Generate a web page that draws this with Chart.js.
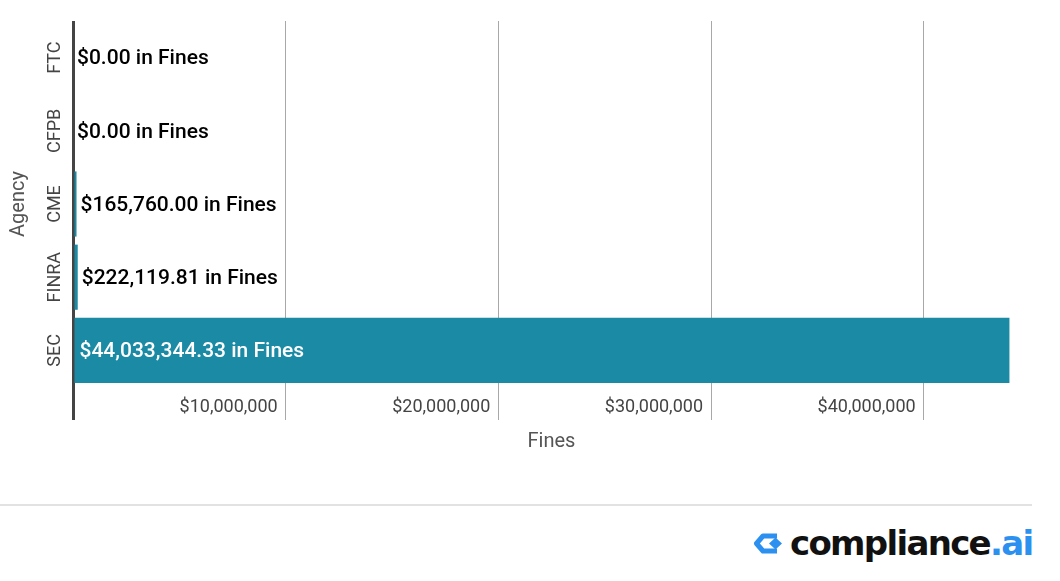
<!DOCTYPE html>
<html><head><meta charset="utf-8">
<script src="https://cdn.jsdelivr.net/npm/chart.js@4.4.1/dist/chart.umd.min.js"></script>
<style>
html,body{margin:0;padding:0;background:#fff;}
body{width:1060px;height:581px;position:relative;overflow:hidden;font-family:Roboto,sans-serif;}
#wrap{position:absolute;left:0;top:0;width:1060px;height:470px;}
#sep{position:absolute;left:0;top:504px;width:1032px;height:2px;background:#e2e2e2;}
#logo{position:absolute;left:753px;top:520px;height:46px;display:flex;align-items:center;white-space:nowrap;}
#logo .t{font-family:"DejaVu Sans",sans-serif;font-weight:bold;font-size:34px;letter-spacing:-1.7px;color:#111;margin-left:6px;}
#logo .ai{color:#2b90f0;}
</style></head><body>
<div id="wrap"><canvas id="c"></canvas></div>
<div id="sep"></div>
<div id="logo"><svg width="31" height="21" viewBox="0 0 31 21"><path d="M24 3 L10 3 L3.5 10.5 L10 18 L24 18" fill="none" stroke="#2b90f0" stroke-width="5" stroke-linejoin="round"/><polygon points="16,10.5 22.5,4.5 29,10.5 22.5,16.5" fill="#2b90f0"/></svg><span class="t">compliance<span class="ai">.ai</span></span></div>
<script>
const agencies = ['FTC', 'CFPB', 'CME', 'FINRA', 'SEC'];
const fines = [0, 0, 165760.00, 222119.81, 44033344.33];
const xTickValues = [0, 10000000, 20000000, 30000000, 40000000];
const xTickLabels = ['', '$10,000,000', '$20,000,000', '$30,000,000', '$40,000,000'];
const xMax = 45000000;
const labelSuffix = ' in Fines';

const money = new Intl.NumberFormat('en-US', {minimumFractionDigits: 2, maximumFractionDigits: 2});

const valueLabels = {
  id: 'valueLabels',
  afterDatasetsDraw(chart) {
    const ctx = chart.ctx;
    const meta = chart.getDatasetMeta(0);
    ctx.save();
    ctx.font = '500 21px Roboto';
    ctx.textBaseline = 'middle';
    ctx.textAlign = 'left';
    meta.data.forEach((bar, i) => {
      const txt = '$' + money.format(fines[i]) + labelSuffix;
      const w = ctx.measureText(txt).width;
      const p = bar.getProps(['x', 'y', 'base'], true);
      if (p.x - p.base > w + 12) {
        ctx.fillStyle = '#ffffff';
        ctx.fillText(txt, p.base + 5, p.y + 1.5);
      } else {
        ctx.fillStyle = '#000000';
        ctx.fillText(txt, p.x + 4, p.y + 1.5);
      }
    });
    ctx.restore();
  }
};

new Chart(document.getElementById('c'), {
  type: 'bar',
  data: {
    labels: agencies,
    datasets: [{
      data: fines,
      backgroundColor: '#1b8aa5',
      borderWidth: 0,
      barPercentage: 0.89,
      categoryPercentage: 1
    }]
  },
  options: {
    indexAxis: 'y',
    responsive: true,
    maintainAspectRatio: false,
    animation: false,
    layout: {padding: {top: 21, right: 30, left: 0, bottom: 0}},
    plugins: {legend: {display: false}, tooltip: {enabled: false}},
    scales: {
      x: {
        type: 'linear', min: 0, max: xMax,
        afterBuildTicks: s => { s.ticks = xTickValues.map(v => ({value: v})); },
        afterFit: s => { s.height = 83; },
        grid: {
          color: c => (c.tick && c.tick.value === 0) ? '#444444' : '#a8a8a8',
          lineWidth: c => (c.tick && c.tick.value === 0) ? 3 : 1,
          tickLength: 33, drawTicks: true
        },
        border: {display: false},
        ticks: {
          autoSkip: false, align: 'end', labelOffset: -8, padding: -23,
          maxRotation: 0, minRotation: 0,
          color: '#444', font: {family: 'Roboto', size: 18},
          callback: (v, i) => xTickLabels[i]
        },
        title: {display: true, text: 'Fines', color: '#555', font: {family: 'Roboto', size: 20}, padding: {top: 0, bottom: 16}}
      },
      y: {
        grid: {display: false},
        border: {display: false},
        afterFit: s => { s.width = 73; },
        ticks: {
          autoSkip: false, minRotation: 90, maxRotation: 90, crossAlign: 'center', padding: -16,
          color: '#444', font: {family: 'Roboto', size: 18}
        },
        title: {display: true, text: 'Agency', color: '#555', font: {family: 'Roboto', size: 20}, padding: {top: 7, bottom: 0}}
      }
    }
  },
  plugins: [valueLabels]
});
</script>
</body></html>
